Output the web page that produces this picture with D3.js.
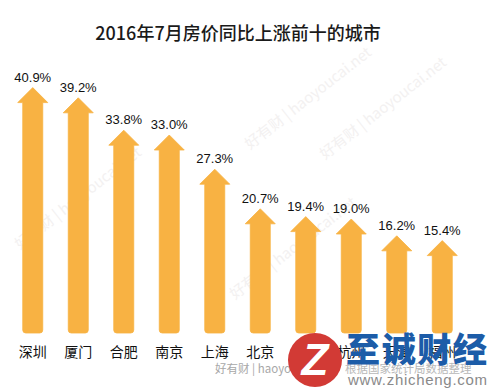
<!DOCTYPE html>
<html><head><meta charset="utf-8">
<script src="https://cdn.jsdelivr.net/npm/d3@7"></script>
<style>
html,body{margin:0;padding:0;background:#fff;}
svg{display:block;}
</style></head>
<body>
<svg id="chart" width="490" height="389"></svg>
<script>
const title = "2016年7月房价同比上涨前十的城市";
const cities = ["深圳","厦门","合肥","南京","上海","北京","广州","杭州","天津","福州"];
const values = [40.9, 39.2, 33.8, 33.0, 27.3, 20.7, 19.4, 19.0, 16.2, 15.4];
const valueLabels = ["40.9%","39.2%","33.8%","33.0%","27.3%","20.7%","19.4%","19.0%","16.2%","15.4%"];

const svg = d3.select("#chart");
const x = d3.scaleBand().domain(cities).range([10, 465]);
const y = d3.scaleLinear().domain([0, 45]).range([333, 63]);

// faint diagonal watermarks (kept inside the frame)
const wm = [[20,250],[235,300],[250,150],[325,160]];
svg.append("g").selectAll("text").data(wm).join("text")
  .attr("transform", d => `translate(${d[0]},${d[1]}) rotate(-38)`)
  .attr("font-family", "'Noto Sans CJK SC', 'Liberation Sans', sans-serif")
  .attr("font-size", 15).attr("fill", "#f3f1f1")
  .text("好有财 | haoyoucai.net");

// title
svg.append("text").attr("x", 238).attr("y", 40).attr("text-anchor", "middle")
  .attr("font-family", "'Noto Sans CJK SC', sans-serif").attr("font-size", 18)
  .attr("font-weight", 500).attr("fill", "#1a1a1a").text(title);

const sw = 10, hw = 15, hh = 15, r = 3;
function arrow(cx, top, bottom) {
  return `M${cx - sw},${bottom - r} L${cx - sw},${top + hh} L${cx - hw},${top + hh} L${cx},${top} L${cx + hw},${top + hh} L${cx + sw},${top + hh} L${cx + sw},${bottom - r} Q${cx + sw},${bottom} ${cx + sw - r},${bottom} L${cx - sw + r},${bottom} Q${cx - sw},${bottom} ${cx - sw},${bottom - r} Z`;
}

const g = svg.append("g");
g.selectAll("path").data(cities).join("path")
  .attr("d", (c, i) => arrow(x(c) + x.bandwidth() / 2, y(values[i]), y(0)))
  .attr("fill", "#f8b243").attr("stroke", "#f8b243").attr("stroke-width", 0.8)
  .attr("stroke-linejoin", "round");

g.selectAll("text.v").data(cities).join("text").attr("class", "v")
  .attr("x", c => x(c) + x.bandwidth() / 2)
  .attr("y", (c, i) => y(values[i]) - 6)
  .attr("text-anchor", "middle")
  .attr("font-family", "'Liberation Sans', Arial, sans-serif").attr("font-size", 13)
  .attr("fill", "#111").text((c, i) => valueLabels[i]);

g.selectAll("text.c").data(cities).join("text").attr("class", "c")
  .attr("x", c => x(c) + x.bandwidth() / 2)
  .attr("y", 357)
  .attr("text-anchor", "middle")
  .attr("font-family", "'Noto Sans CJK SC', sans-serif").attr("font-size", 14)
  .attr("fill", "#111").text(c => c);

// footer source
svg.append("text").attr("x", 215).attr("y", 373)
  .attr("font-family", "'Noto Sans CJK SC', sans-serif").attr("font-size", 11.5)
  .attr("fill", "#a8a8a8").text("好有财 | haoyoucai.net");
svg.append("text").attr("x", 345).attr("y", 373)
  .attr("font-family", "'Noto Sans CJK SC', sans-serif").attr("font-size", 11.5)
  .attr("fill", "#b8b8b8").text("根据国家统计局数据整理");

// logo overlay
const logo = svg.append("g");
logo.append("circle").attr("cx", 315).attr("cy", 360).attr("r", 27).attr("fill", "#d23a35");
logo.append("text").attr("x", 315).attr("y", 375).attr("text-anchor", "middle")
  .attr("font-family", "'Liberation Sans', sans-serif").attr("font-size", 44)
  .attr("font-weight", "bold").attr("font-style", "italic").attr("fill", "#fff").text("Z");
logo.append("text").attr("x", 346).attr("y", 362)
  .attr("font-family", "'Noto Sans CJK SC', sans-serif").attr("font-size", 34)
  .attr("font-weight", 900).attr("fill", "#1c5ca8").attr("textLength", 141).text("至诚财经");
logo.append("text").attr("x", 348).attr("y", 385)
  .attr("font-family", "'Liberation Sans', sans-serif").attr("font-size", 15)
  .attr("fill", "#8a8a8a").attr("textLength", 139).text("www.zhicheng.com");
</script>
</body></html>
